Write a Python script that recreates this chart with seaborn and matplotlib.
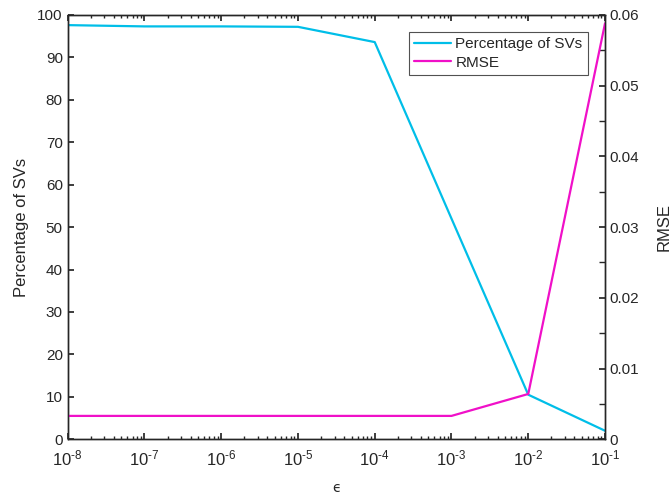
import numpy as np
import pandas as pd
import matplotlib
matplotlib.use('Agg')
import matplotlib.pyplot as plt
import matplotlib.ticker as mticker
import seaborn as sns

# values
epsilon = [1e-8, 1e-7, 1e-6, 1e-5, 1e-4, 1e-3, 1e-2, 1e-1]
pct_svs = [97.6, 97.3, 97.3, 97.2, 93.6, 52.0, 10.5, 2.0]
rmse = [0.0033, 0.0033, 0.0033, 0.0033, 0.0033, 0.0033, 0.0064, 0.0588]

df = pd.DataFrame({'epsilon': epsilon, 'pct': pct_svs, 'rmse': rmse})

sns.set_theme(style='white')
plt.rcParams['font.family'] = ['Liberation Sans', 'DejaVu Sans']
plt.rcParams['mathtext.fontset'] = 'custom'
plt.rcParams['mathtext.rm'] = 'Liberation Sans'
plt.rcParams['mathtext.it'] = 'Liberation Sans'
plt.rcParams['axes.unicode_minus'] = False

cyan = '#00BEE8'
magenta = '#F010C8'

fig = plt.figure(figsize=(6.7, 4.98), dpi=100)
ax = fig.add_axes([0.101, 0.118, 0.802, 0.852])
ax2 = ax.twinx()

sns.lineplot(data=df, x='epsilon', y='pct', color=cyan, lw=1.6, ax=ax, label='Percentage of SVs', legend=False)
sns.lineplot(data=df, x='epsilon', y='rmse', color=magenta, lw=1.6, ax=ax2, label='RMSE', legend=False)

ax.set_xscale('log')
ax.set_xlim(1e-8, 1e-1)
ax.set_ylim(0, 100)
ax2.set_ylim(0, 0.06)
ax.set_yticks(np.arange(0, 101, 10))
ax2.set_yticks(np.arange(0, 0.061, 0.01))
ax2.yaxis.set_major_formatter(mticker.FuncFormatter(lambda v, p: '0' if v == 0 else f'{v:.2f}'))
ax2.yaxis.set_minor_locator(mticker.MultipleLocator(0.005))
ax.xaxis.set_major_locator(mticker.FixedLocator(epsilon))
minor = [m * 10.0 ** k for k in range(-8, -1) for m in range(2, 10)]
ax.xaxis.set_minor_locator(mticker.FixedLocator(minor))
ax.xaxis.set_major_formatter(mticker.FuncFormatter(lambda v, p: '$10^{\\text{-%d}}$' % round(-np.log10(v))))
ax.xaxis.set_minor_formatter(mticker.NullFormatter())

ax.set_xlabel('\u03f5', fontsize=10, labelpad=9, family=['DejaVu Sans'])
ax.set_ylabel('Percentage of SVs', fontsize=12, labelpad=6)
ax2.set_ylabel('RMSE', fontsize=12, labelpad=12)

ax.tick_params(axis='x', which='both', direction='in', top=True, bottom=True, labelsize=12, pad=7)
ax.tick_params(axis='x', which='major', length=4)
ax.tick_params(axis='x', which='minor', length=2)
ax.tick_params(axis='y', direction='in', left=True, right=False, length=4, labelsize=11)
ax2.tick_params(axis='y', which='major', direction='in', right=True, length=4, labelsize=11)
ax2.tick_params(axis='y', which='minor', direction='in', right=True, length=4)

for a in (ax, ax2):
    for s in a.spines.values():
        s.set_color('#262626')
        s.set_linewidth(1.0)

h1, l1 = ax.get_legend_handles_labels()
h2, l2 = ax2.get_legend_handles_labels()
leg = ax2.legend(h1 + h2, l1 + l2, loc='upper right', bbox_to_anchor=(0.968, 0.96), borderaxespad=0,
                 fontsize=11, frameon=True, fancybox=False, edgecolor='#262626',
                 handlelength=2.4, handletextpad=0.3, borderpad=0.35, labelspacing=0.3)
leg.get_frame().set_linewidth(0.8)

fig.savefig('out.png', dpi=100)
